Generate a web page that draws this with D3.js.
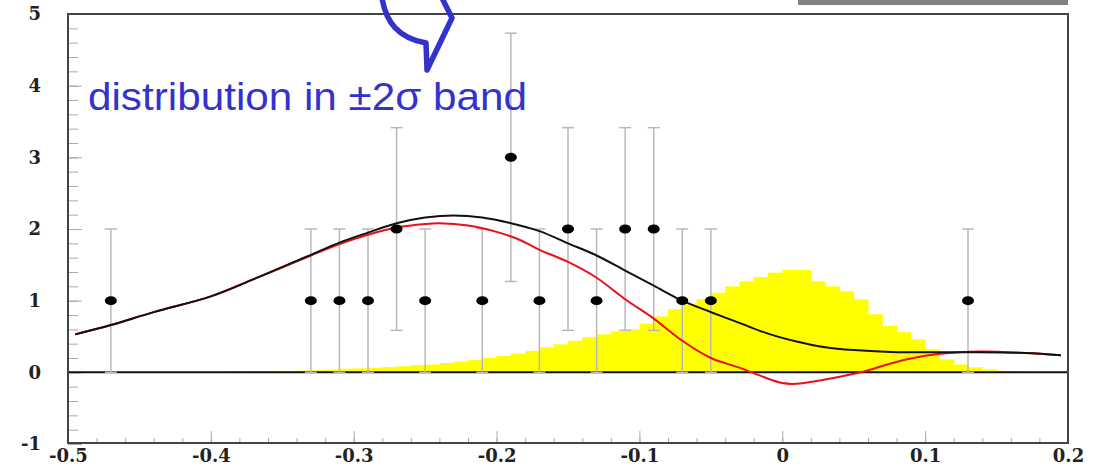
<!DOCTYPE html>
<html>
<head>
<meta charset="utf-8">
<script src="https://cdn.jsdelivr.net/npm/d3@7"></script>
<style>
  body { margin: 0; background: #fff; }
  svg { display: block; }
</style>
</head>
<body>
<div id="chart"></div>
<script>
// data points with sqrt(n) error bars
var pointX = [-0.47, -0.33, -0.31, -0.29, -0.27, -0.25, -0.21, -0.19, -0.17, -0.15, -0.13, -0.11, -0.09, -0.07, -0.05, 0.13];
var pointY = [1, 1, 1, 1, 2, 1, 1, 3, 1, 2, 1, 2, 2, 1, 1, 1];

// yellow histogram, bins of 0.01 starting at -0.40
var histStart = -0.40;
var histWidth = 0.01;
var histValues = [0.005, 0.01, 0.01, 0.015, 0.02, 0.02, 0.025, 0.03, 0.04, 0.05,
                  0.055, 0.065, 0.075, 0.085, 0.10, 0.11, 0.13, 0.15, 0.17, 0.20,
                  0.23, 0.26, 0.30, 0.35, 0.39, 0.44, 0.49, 0.53, 0.57, 0.60,
                  0.68, 0.78, 0.88, 0.95, 1.02, 1.11, 1.20, 1.27, 1.33, 1.39,
                  1.43, 1.43, 1.27, 1.20, 1.13, 1.02, 0.81, 0.65, 0.56, 0.46,
                  0.32, 0.18, 0.11, 0.07, 0.04, 0.02, 0.01];

// black fit curve
var blackX = [-0.495, -0.47, -0.44, -0.40, -0.37, -0.33, -0.31, -0.29, -0.27, -0.25, -0.23, -0.21, -0.19, -0.17, -0.15, -0.13, -0.11, -0.09, -0.07, -0.05, -0.03, -0.01, 0.01, 0.03, 0.05, 0.08, 0.10, 0.13, 0.17, 0.195];
var blackY = [0.53, 0.66, 0.84, 1.06, 1.30, 1.64, 1.81, 1.95, 2.08, 2.16, 2.19, 2.16, 2.08, 1.97, 1.80, 1.63, 1.42, 1.21, 1.00, 0.84, 0.69, 0.54, 0.43, 0.35, 0.31, 0.28, 0.28, 0.28, 0.27, 0.24];

// red curve
var redX = [-0.495, -0.47, -0.44, -0.40, -0.37, -0.33, -0.31, -0.29, -0.27, -0.25, -0.24, -0.22, -0.20, -0.184, -0.17, -0.15, -0.13, -0.11, -0.09, -0.07, -0.05, -0.03, -0.015, 0.0, 0.01, 0.03, 0.055, 0.078, 0.10, 0.124, 0.14, 0.17, 0.195];
var redY = [0.53, 0.66, 0.84, 1.06, 1.30, 1.63, 1.79, 1.92, 2.02, 2.07, 2.08, 2.05, 1.96, 1.85, 1.71, 1.54, 1.32, 1.02, 0.75, 0.44, 0.20, 0.065, -0.05, -0.15, -0.16, -0.10, 0.0, 0.135, 0.23, 0.28, 0.29, 0.27, 0.24];

var xTicks = [-0.5, -0.4, -0.3, -0.2, -0.1, 0, 0.1, 0.2];
var yTicks = [-1, 0, 1, 2, 3, 4, 5];

var width = 1100, height = 467;
var svg = d3.select("#chart").append("svg")
    .attr("width", width)
    .attr("height", height);

var x = d3.scaleLinear().domain([-0.5, 0.2]).range([68, 1068]);
var y = d3.scaleLinear().domain([-1, 5]).range([444, 14]);

// grey tab at the top right
svg.append("rect")
    .attr("x", 798).attr("y", 0)
    .attr("width", 270).attr("height", 5)
    .attr("fill", "#808080");

// histogram
var hist = histValues.map(function(v, i) {
    return { x0: histStart + i * histWidth, x1: histStart + (i + 1) * histWidth, v: v };
});
svg.append("g").selectAll("rect")
    .data(hist)
    .enter().append("rect")
    .attr("x", function(d) { return x(d.x0); })
    .attr("width", function(d) { return x(d.x1) - x(d.x0) + 0.5; })
    .attr("y", function(d) { return y(d.v); })
    .attr("height", function(d) { return y(0) - y(d.v); })
    .attr("fill", "#ffff00");

// plain hyphen instead of unicode minus, like the original
function fmt(d) {
    if (d === 0) return "0";
    var s = Number.isInteger(d) ? String(d) : d.toFixed(1);
    return s.replace("\u2212", "-");
}

// axes (ticks pointing inward)
var yMinor = d3.axisLeft(y).tickValues(d3.range(-1, 5.001, 0.2)).tickSize(-10).tickFormat("");
var yMajor = d3.axisLeft(y).tickValues(yTicks).tickSize(-14).tickPadding(27).tickFormat(fmt);
var xMinor = d3.axisBottom(x).tickValues(d3.range(-0.5, 0.2001, 0.02)).tickSize(-5).tickFormat("");
var xMajor = d3.axisBottom(x).tickValues(xTicks).tickSize(-12).tickPadding(6).tickFormat(fmt);

[yMinor, yMajor].forEach(function(ax) {
    var g = svg.append("g").attr("transform", "translate(68,0)").call(ax);
    g.select(".domain").remove();
    g.selectAll(".tick line").attr("stroke", "#aaa");
});
[xMinor, xMajor].forEach(function(ax) {
    var g = svg.append("g").attr("transform", "translate(0,443)").call(ax);
    g.select(".domain").remove();
    g.selectAll(".tick line").attr("stroke", "#aaa");
});
svg.selectAll(".tick text")
    .style("font-family", "'DejaVu Serif', serif")
    .style("font-weight", "bold")
    .style("font-size", "18px")
    .attr("fill", "#222");

// zero line
svg.append("line")
    .attr("x1", x(-0.5)).attr("x2", x(0.2))
    .attr("y1", y(0)).attr("y2", y(0))
    .attr("stroke", "#111").attr("stroke-width", 2);

// error bars
var pts = pointX.map(function(v, i) { return { x: v, y: pointY[i], e: Math.sqrt(pointY[i]) }; });
var bars = svg.append("g").attr("stroke", "#b8b8b8").attr("stroke-width", 1.5);
pts.forEach(function(d) {
    bars.append("line")
        .attr("x1", x(d.x)).attr("x2", x(d.x))
        .attr("y1", y(d.y - d.e)).attr("y2", y(d.y + d.e));
    [d.y - d.e, d.y + d.e].forEach(function(c) {
        bars.append("line")
            .attr("x1", x(d.x) - 6).attr("x2", x(d.x) + 6)
            .attr("y1", y(c)).attr("y2", y(c));
    });
});

// curves
var line = d3.line()
    .x(function(d) { return x(d[0]); })
    .y(function(d) { return y(d[1]); })
    .curve(d3.curveCatmullRom);

svg.append("path")
    .datum(redX.map(function(v, i) { return [v, redY[i]]; }))
    .attr("d", line)
    .attr("fill", "none").attr("stroke", "#e8101a").attr("stroke-width", 2);

svg.append("path")
    .datum(blackX.map(function(v, i) { return [v, blackY[i]]; }))
    .attr("d", line)
    .attr("fill", "none").attr("stroke", "#111").attr("stroke-width", 2);

// points
svg.append("g").selectAll("ellipse")
    .data(pts)
    .enter().append("ellipse")
    .attr("cx", function(d) { return x(d.x); })
    .attr("cy", function(d) { return y(d.y); })
    .attr("rx", 6).attr("ry", 4.5)
    .attr("fill", "#000");

// frame
svg.append("rect")
    .attr("x", 68).attr("y", 14)
    .attr("width", 1000).attr("height", 429)
    .attr("fill", "none").attr("stroke", "#444").attr("stroke-width", 2);

// annotation callout
svg.append("path")
    .attr("d", "M382,-2 C386,22 398,38 426,43 L427,70 L452,18 L442,-2")
    .attr("fill", "none")
    .attr("stroke", "#3333cc").attr("stroke-width", 5.5)
    .attr("stroke-linejoin", "round").attr("stroke-linecap", "round");

svg.append("text")
    .attr("x", 88).attr("y", 110)
    .attr("font-family", "Liberation Sans, Arial, sans-serif")
    .attr("font-size", 38)
    .attr("textLength", 439)
    .attr("lengthAdjust", "spacingAndGlyphs")
    .attr("fill", "#3333cc")
    .text("distribution in \u00b12\u03c3 band");
</script>
</body>
</html>
